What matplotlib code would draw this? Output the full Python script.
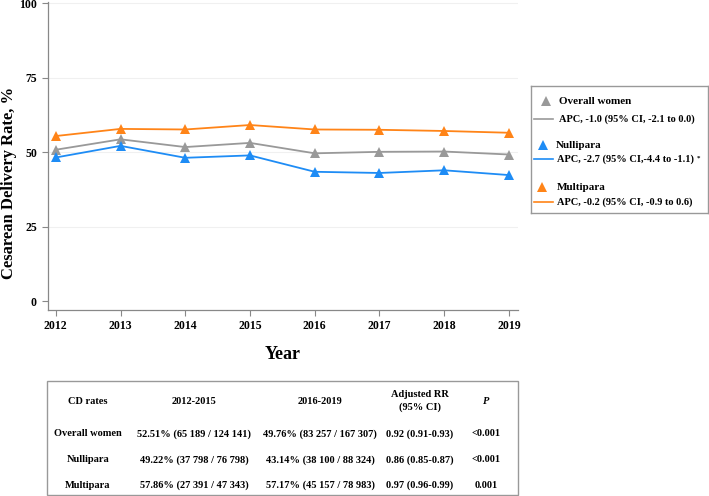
import matplotlib
matplotlib.use("Agg")
import matplotlib.pyplot as plt
from matplotlib.patches import Rectangle

plt.rcParams['font.family'] = ['Liberation Serif', 'DejaVu Serif']
plt.rcParams['font.weight'] = 'bold'

years = [2012, 2013, 2014, 2015, 2016, 2017, 2018, 2019]
overall = [50.8, 54.3, 51.7, 53.1, 49.6, 50.1, 50.2, 49.2]
nullipara = [48.2, 52.1, 48.1, 48.9, 43.4, 43.0, 43.9, 42.3]
multipara = [55.4, 57.8, 57.6, 59.1, 57.6, 57.5, 57.1, 56.5]
yticks = [0, 25, 50, 75, 100]

series_names = ["Overall women", "Nullipara", "Multipara"]
apc_labels = ["APC, -1.0 (95% CI, -2.1 to 0.0)",
              "APC, -2.7 (95% CI,-4.4 to -1.1)",
              "APC, -0.2 (95% CI, -0.9 to 0.6)"]
apc_marks = ["", "*", ""]
colors = ["#999999", "#1E8CF5", "#FF8418"]

table_header = ["CD rates", "2012-2015", "2016-2019", "Adjusted RR\n(95% CI)", "P"]
table_rows = [
    ["Overall women", "52.51% (65 189 / 124 141)", "49.76% (83 257 / 167 307)", "0.92 (0.91-0.93)", "<0.001"],
    ["Nullipara", "49.22% (37 798 / 76 798)", "43.14% (38 100 / 88 324)", "0.86 (0.85-0.87)", "<0.001"],
    ["Multipara", "57.86% (27 391 / 47 343)", "57.17% (45 157 / 78 983)", "0.97 (0.96-0.99)", "0.001"],
]

W, H = 709, 496
fig = plt.figure(figsize=(W / 100, H / 100), dpi=100)

def fx(px):
    return px / W

def fy(py):
    return 1 - py / H

ax = fig.add_axes([fx(48), fy(310), fx(518) - fx(48), fy(2) - fy(310)])
for vals, c in zip([overall, nullipara, multipara], colors):
    ax.plot(years, vals, color=c, lw=1.3, marker='^', markersize=7, markeredgewidth=0)
ax.set_xlim(2011.88, 2019.14)
ax.set_ylim(-3, 100.4)
ax.set_yticks(yticks)
ax.set_xticks(years)
for y in [25, 50, 75, 100]:
    ax.axhline(y, color='#f0f0f0', lw=0.8, zorder=0)
for s in ['top', 'right']:
    ax.spines[s].set_visible(False)
for s in ['left', 'bottom']:
    ax.spines[s].set_color('#888888')
    ax.spines[s].set_linewidth(0.9)
ax.tick_params(axis='both', colors='#888888', labelcolor='black', labelsize=8.5, length=4, width=0.8)
ax.tick_params(axis='y', pad=4)
for lab in ax.get_xticklabels() + ax.get_yticklabels():
    lab.set_fontweight('bold')
ax.set_ylabel("Cesarean Delivery Rate, %", fontsize=12, fontweight='bold')
ax.yaxis.set_label_coords(-(48 - 17) / 470, (310 - 183) / 308)
ax.set_xlabel("Year", fontsize=13, fontweight='bold', labelpad=10)

# Legend box
lax = fig.add_axes([fx(531), fy(213), fx(708) - fx(531), fy(86) - fy(213)])
lax.set_xlim(531, 708)
lax.set_ylim(213, 86)
lax.set_xticks([])
lax.set_yticks([])
for s in lax.spines.values():
    s.set_color('#999999')
    s.set_linewidth(1)
group_y = [101, 145, 187]
marker_x = [546, 543, 542]
name_x = [559, 556, 557]
apc_x = [559, 557, 557]
apc_dy = [18, 14, 15]
fig.canvas.draw()
for i, (name, apc, mk, c, gy) in enumerate(zip(series_names, apc_labels, apc_marks, colors, group_y)):
    lax.plot([marker_x[i]], [gy], marker='^', color=c, markersize=7, markeredgewidth=0)
    lax.text(name_x[i], gy, name, fontsize=8, fontweight='bold', va='center', ha='left')
    ly = gy + apc_dy[i]
    lax.plot([534, 553], [ly, ly], color=c, lw=1.2)
    t = lax.text(apc_x[i], ly, apc, fontsize=7.5, fontweight='bold', va='center', ha='left')
    if mk:
        bb = t.get_window_extent(renderer=fig.canvas.get_renderer())
        fig.text((bb.x1 + 3) / W, (bb.y1 - 1) / H, mk, fontsize=5, fontweight='bold', va='top', ha='left')

# Table
fig.patches.append(Rectangle((fx(47), fy(495)), fx(518) - fx(47), fy(381) - fy(495),
                             transform=fig.transFigure, fill=False, edgecolor='#999999', lw=1))
col_x = [88, 194, 320, 420, 486]
hdr_y = 401
for i, (h, x) in enumerate(zip(table_header, col_x)):
    style = 'italic' if h == "P" else 'normal'
    fig.text(fx(x), fy(hdr_y), h, fontsize=7.5, fontweight='bold', style=style,
             ha='center', va='center', linespacing=1.5)
row_y = [434, 460, 485]
for row, ry in zip(table_rows, row_y):
    for cell, x in zip(row, col_x):
        fig.text(fx(x), fy(ry), cell, fontsize=7.5, fontweight='bold', ha='center', va='center')

fig.savefig("out.png", dpi=100)
